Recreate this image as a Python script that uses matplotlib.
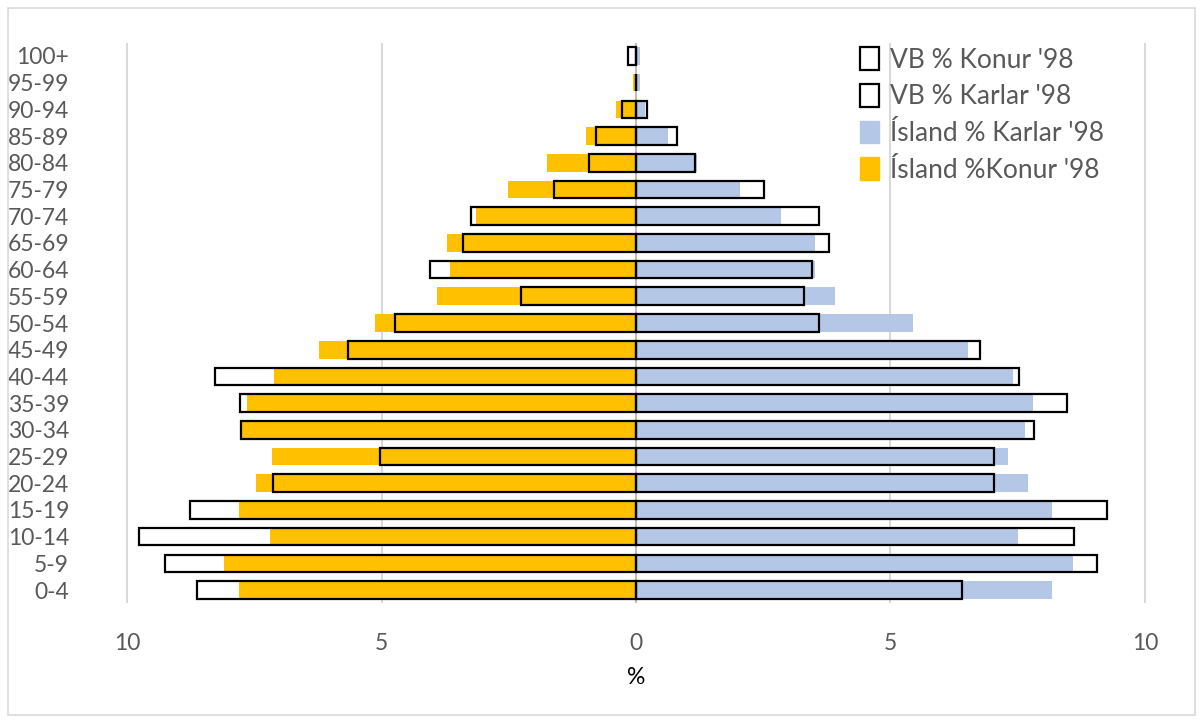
import matplotlib
matplotlib.use("Agg")
import matplotlib.pyplot as plt
from matplotlib.patches import Patch, Rectangle
from matplotlib.ticker import FuncFormatter

ages = ['0-4', '5-9', '10-14', '15-19', '20-24', '25-29', '30-34', '35-39',
        '40-44', '45-49', '50-54', '55-59', '60-64', '65-69', '70-74', '75-79',
        '80-84', '85-89', '90-94', '95-99', '100+']

island_konur = [7.80, 8.10, 7.20, 7.80, 7.46, 7.16, 7.75, 7.65, 7.11, 6.23, 5.13,
                3.90, 3.66, 3.71, 3.14, 2.52, 1.74, 0.99, 0.39, 0.05, 0.01]
vb_konur = [8.63, 9.26, 9.76, 8.77, 7.14, 5.02, 7.77, 7.78, 8.27, 5.66, 4.73,
            2.26, 4.04, 3.39, 3.24, 1.62, 0.92, 0.79, 0.28, 0.0, 0.16]
island_karlar = [8.18, 8.58, 7.50, 8.18, 7.70, 7.30, 7.65, 7.80, 7.40, 6.52, 5.45,
                 3.91, 3.52, 3.52, 2.84, 2.05, 1.19, 0.62, 0.18, 0.08, 0.08]
vb_karlar = [6.40, 9.05, 8.60, 9.25, 7.04, 7.04, 7.82, 8.47, 7.53, 6.75, 3.60,
             3.31, 3.45, 3.79, 3.60, 2.52, 1.15, 0.80, 0.21, 0.0, 0.0]

x_ticks = [-10, -5, 0, 5, 10]

YELLOW = '#FFC000'
BLUE = '#B4C7E7'
GRAY_TXT = '#595959'
plt.rcParams['font.family'] = ['Lato', 'DejaVu Sans']

fig = plt.figure(figsize=(12.03, 7.23), dpi=100)
ax = fig.add_axes([126 / 1203, 1 - 603.4 / 723, (1146 - 126) / 1203, (603.4 - 42.6) / 723])

y = list(range(len(ages)))
h = 0.66
ax.barh(y, [-v for v in island_konur], height=h, color=YELLOW, zorder=2)
ax.barh(y, island_karlar, height=h, color=BLUE, zorder=2)
ax.axvline(0, color='#bfbfbf', lw=1.5, zorder=3)
ax.barh(y, [-v for v in vb_konur], height=h, facecolor='none', edgecolor='black',
        linewidth=1.6, zorder=4)
ax.barh(y, vb_karlar, height=h, facecolor='none', edgecolor='black',
        linewidth=1.6, zorder=4)

ax.set_xlim(-10.02, 10.02)
ax.set_ylim(-0.5, len(ages) - 0.5)
ax.set_xticks(x_ticks)
ax.xaxis.set_major_formatter(FuncFormatter(lambda v, p: f"{abs(v):g}"))
ax.set_yticks(y)
ax.set_yticklabels(ages)
for v in [-10, -5, 5, 10]:
    ax.axvline(v, color='#d9d9d9', lw=1.5, zorder=1)
for s in ax.spines.values():
    s.set_visible(False)
ax.tick_params(axis='y', length=0, pad=41, labelsize=16.5, labelcolor=GRAY_TXT)
ax.tick_params(axis='x', length=0, pad=21, labelsize=16.5, labelcolor=GRAY_TXT)
ax.set_xlabel('%', fontsize=16.5, color='black', labelpad=10)

handles = [
    Patch(facecolor='white', edgecolor='black', linewidth=1.6, label="VB % Konur '98"),
    Patch(facecolor='white', edgecolor='black', linewidth=1.6, label="VB % Karlar '98"),
    Patch(facecolor=BLUE, edgecolor=BLUE, label="Ísland % Karlar '98"),
    Patch(facecolor=YELLOW, edgecolor=YELLOW, label="Ísland %Konur '98"),
]
leg = fig.legend(handles=handles, loc='upper left', bbox_to_anchor=(842 / 1203, 1 - 29 / 723),
                 frameon=False, fontsize=19, handlelength=0.7, handleheight=0.95,
                 handletextpad=0.4, labelspacing=0.42, borderpad=0.2)
for t in leg.get_texts():
    t.set_color(GRAY_TXT)

fig.patches.append(Rectangle((8 / 1203, 8 / 723), 1 - 16 / 1203, 1 - 16 / 723,
                             transform=fig.transFigure, facecolor='none',
                             edgecolor='#d9d9d9', linewidth=1.2))

fig.savefig('out.png', dpi=100)
